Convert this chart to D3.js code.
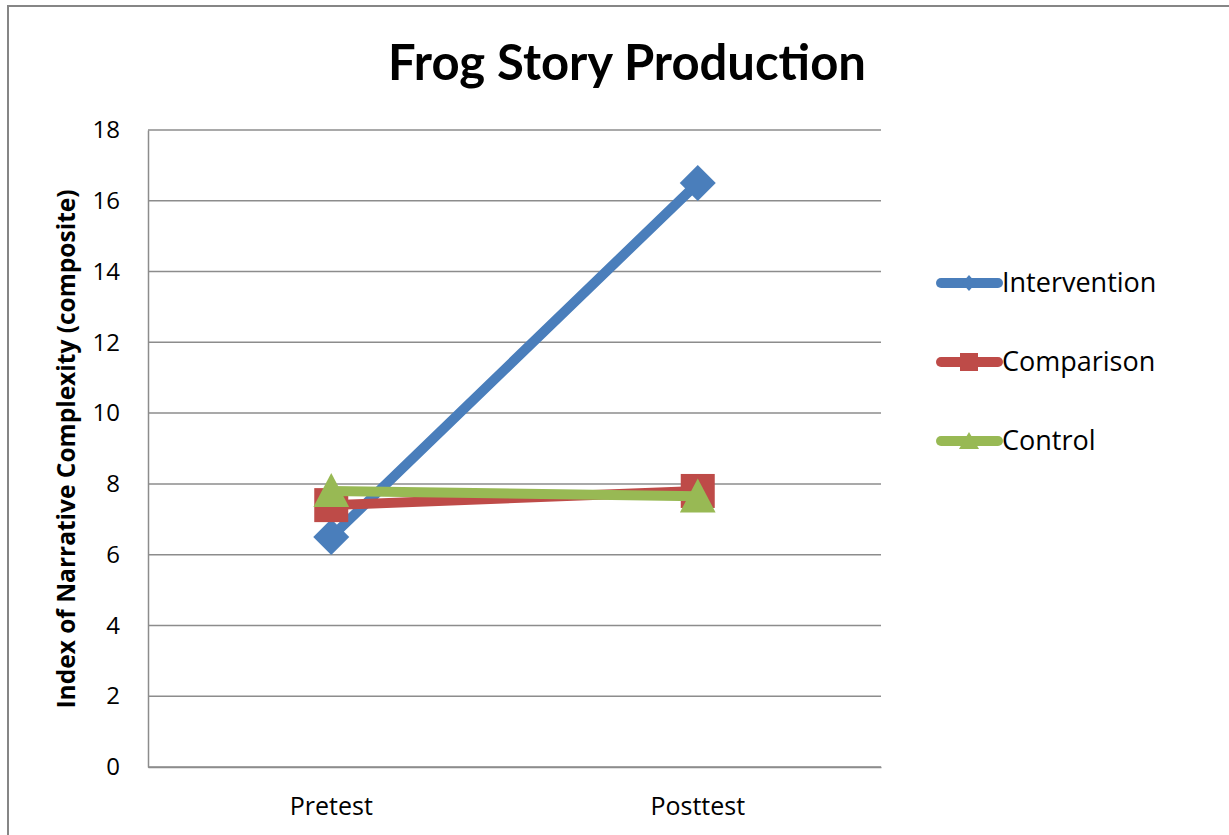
<!DOCTYPE html>
<html>
<head>
<meta charset="utf-8">
<script src="https://cdn.jsdelivr.net/npm/d3@7"></script>
<style>
  html, body { margin: 0; padding: 0; background: #fff; }
  svg { display: block; font-family: "Open Sans", Lato, sans-serif; }
</style>
</head>
<body>
<div id="chart"></div>
<script>
const categories = ["Pretest", "Posttest"];
const seriesNames = ["Intervention", "Comparison", "Control"];
const intervention = [6.5, 16.5];
const comparison = [7.4, 7.8];
const control = [7.8, 7.65];
const yTicks = [0, 2, 4, 6, 8, 10, 12, 14, 16, 18];

const colors = ["#4a7ebb", "#be4b48", "#98b954"];
const shapes = ["diamond", "square", "triangle"];

const width = 1229, height = 835;
const margin = { top: 130, right: 348, bottom: 68, left: 148 };
const plotW = width - margin.left - margin.right;
const plotH = height - margin.top - margin.bottom;

const svg = d3.select("#chart").append("svg")
    .attr("width", width)
    .attr("height", height);

// outer chart border
svg.append("rect")
    .attr("x", 8).attr("y", 6)
    .attr("width", width + 20).attr("height", height + 20)
    .attr("fill", "none")
    .attr("stroke", "#868686")
    .attr("stroke-width", 2);

svg.append("text")
    .attr("x", 627).attr("y", 80)
    .attr("text-anchor", "middle")
    .attr("font-family", "Lato, sans-serif")
    .attr("font-size", 49)
    .attr("font-weight", "bold")
    .text("Frog Story Production");

const g = svg.append("g").attr("transform", `translate(${margin.left},${margin.top})`);

const x = d3.scaleBand().domain(categories).range([0, plotW]);
const y = d3.scaleLinear().domain([0, 18]).range([plotH, 0]);

// gridlines
g.append("g")
  .selectAll("line")
  .data(yTicks)
  .join("line")
    .attr("x1", 0).attr("x2", plotW)
    .attr("y1", d => y(d)).attr("y2", d => y(d))
    .attr("stroke", "#8c8c8c")
    .attr("stroke-width", 1.5);

const yAxis = g.append("g")
    .call(d3.axisLeft(y).tickValues(yTicks).tickSize(0).tickPadding(28));
yAxis.select(".domain").attr("stroke", "#8c8c8c").attr("stroke-width", 1.5);
yAxis.selectAll("text").attr("font-size", 24).attr("fill", "#000")
    .attr("font-family", "'Open Sans', sans-serif");

const xAxis = g.append("g")
    .attr("transform", `translate(0,${plotH})`)
    .call(d3.axisBottom(x).tickSize(0).tickPadding(30));
xAxis.select(".domain").attr("stroke", "#8c8c8c").attr("stroke-width", 1.5);
xAxis.selectAll("text").attr("font-size", 25).attr("fill", "#000")
    .attr("font-family", "'Open Sans', sans-serif");

svg.append("text")
    .attr("transform", `translate(75,449) rotate(-90)`)
    .attr("text-anchor", "middle")
    .attr("font-size", 24.5)
    .attr("font-weight", "bold")
    .text("Index of Narrative Complexity (composite)");

const series = [intervention, comparison, control];

const line = d3.line()
    .x((d, i) => x(categories[i]) + x.bandwidth() / 2)
    .y(d => y(d));

function marker(sel, shape, size) {
  const s = size;
  if (shape === "diamond") {
    sel.append("path").attr("d", `M0,${-s}L${s},0L0,${s}L${-s},0Z`);
  } else if (shape === "square") {
    sel.append("rect").attr("x", -s).attr("y", -s).attr("width", 2 * s).attr("height", 2 * s);
  } else {
    sel.append("path").attr("d", `M0,${-s * 1.05}L${s * 1.05},${s * 0.95}L${-s * 1.05},${s * 0.95}Z`);
  }
}

series.forEach((vals, si) => {
  const sg = g.append("g").attr("fill", colors[si]);
  sg.append("path")
      .datum(vals)
      .attr("d", line)
      .attr("fill", "none")
      .attr("stroke", colors[si])
      .attr("stroke-width", 10)
      .attr("stroke-linecap", "round");
  vals.forEach((v, i) => {
    const m = sg.append("g")
        .attr("transform", `translate(${x(categories[i]) + x.bandwidth() / 2},${y(v)})`);
    marker(m, shapes[si], shapes[si] === "diamond" ? 18 : 17);
  });
});

// legend
const legend = svg.append("g").attr("transform", "translate(938,283)");
seriesNames.forEach((name, i) => {
  const lg = legend.append("g")
      .attr("transform", `translate(0,${i * 79})`)
      .attr("fill", colors[i]);
  lg.append("line")
      .attr("x1", 3).attr("x2", 60)
      .attr("stroke", colors[i])
      .attr("stroke-width", 10)
      .attr("stroke-linecap", "round");
  const m = lg.append("g").attr("transform", "translate(31,0)");
  if (shapes[i] === "diamond") m.append("path").attr("d", "M0,-8L7,0L0,8L-7,0Z");
  else if (shapes[i] === "square") m.append("rect").attr("x", -9).attr("y", -9).attr("width", 18).attr("height", 18);
  else m.append("path").attr("d", "M0,-9L10,8L-10,8Z");
  lg.append("text")
      .attr("x", 64).attr("y", 9)
      .attr("font-size", 27)
      .attr("fill", "#000")
      .text(name);
});
</script>
</body>
</html>
